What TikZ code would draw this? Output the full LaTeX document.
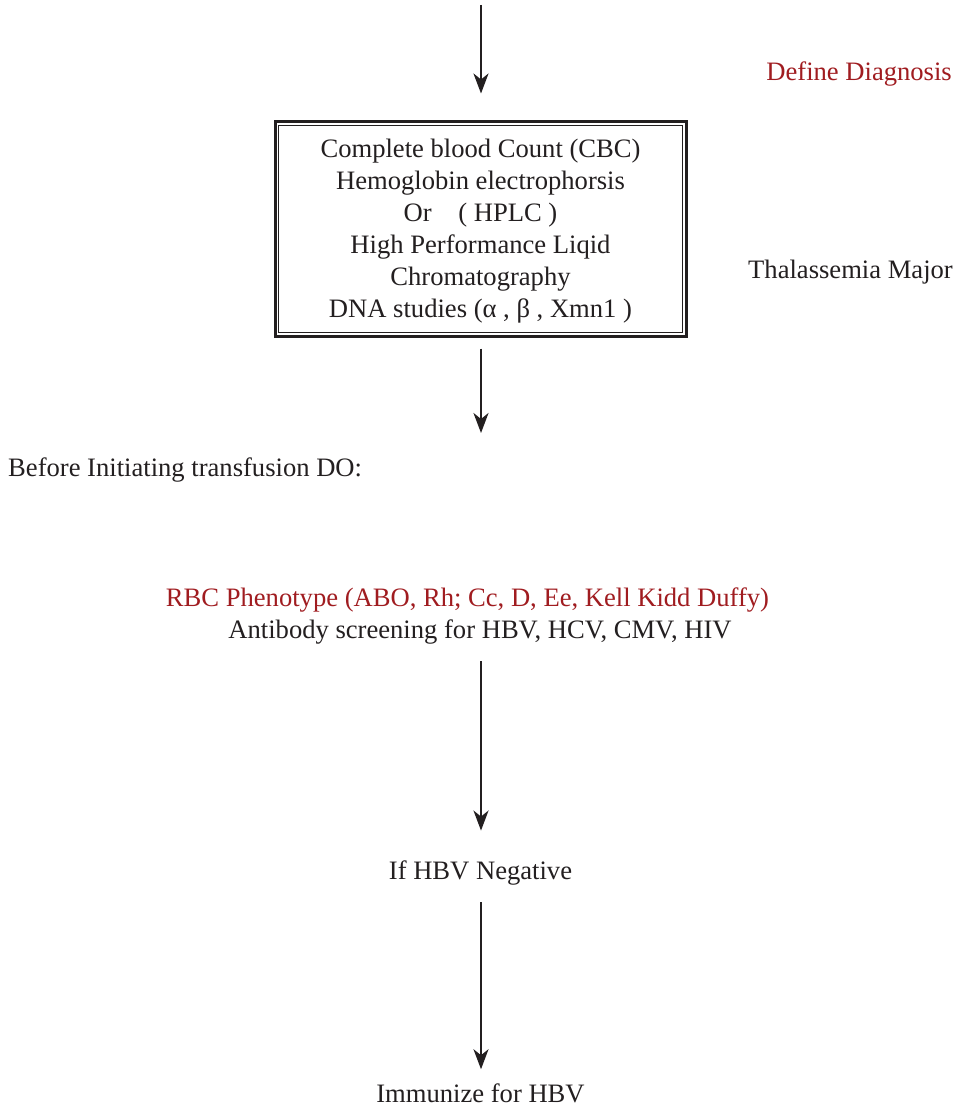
\documentclass[tikz,border=0pt]{standalone}
\usepackage{fontspec}
\setmainfont{Liberation Serif}
\usetikzlibrary{arrows.meta}
\definecolor{darkred}{RGB}{160,28,32}
\definecolor{ink}{RGB}{35,31,32}
\tikzset{
  txt/.style={inner sep=0pt, text=ink, font=\fontsize{26.6}{32}\selectfont},
  redtxt/.style={txt, text=darkred},
  flow/.style={draw=ink, line width=2.4pt, -{Stealth[length=20pt,width=15pt,inset=6pt]}},
  outerbox/.style={draw=ink, line width=3pt, minimum width=411pt, minimum height=214pt, inner sep=0pt}
}
\begin{document}
\begin{tikzpicture}[x=1pt,y=1pt]
\useasboundingbox[fill=white] (0,0) rectangle (961,-1107);
\coordinate (top) at (481,-5);
\node[outerbox] (box) at (480.5,-229) {};
\draw[ink, line width=1.2pt] ([shift={(5,-5)}]box.north west) rectangle ([shift={(-5,5)}]box.south east);
\node[txt, align=center, anchor=center] (boxtext) at (480.5,-231) {Complete blood Count (CBC)\\Hemoglobin electrophorsis\\Or\quad ( HPLC )\\High Performance Liqid\\Chromatography\\DNA studies (α , β , Xmn1 )};
\node[redtxt, anchor=east] (define) at (952,-74) {Define Diagnosis};
\node[txt, anchor=east] (thal) at (953,-272) {Thalassemia Major};
\node[txt, anchor=west] (before) at (8,-470) {Before Initiating transfusion DO:};
\node[redtxt] (rbc) at (467.5,-600) {RBC Phenotype (ABO, Rh; Cc, D, Ee, Kell Kidd Duffy)};
\node[txt] (anti) at (480,-632) {Antibody screening for HBV, HCV, CMV, HIV};
\node[txt] (neg) at (480.5,-873) {If HBV Negative};
\node[txt] (imm) at (480.5,-1093) {Immunize for HBV};
\coordinate (a2end) at (481,-433);
\draw[flow, shorten >=27pt] (top) -- (box.north -| top);
\draw[flow, shorten <=11pt] (box.south -| top) -- (a2end);
\draw[flow, shorten <=17pt, shorten >=30pt] (anti.south -| top) -- (neg.north -| top);
\draw[flow, shorten <=17pt, shorten >=14pt] (neg.south -| top) -- (imm.north -| top);
\end{tikzpicture}
\end{document}
